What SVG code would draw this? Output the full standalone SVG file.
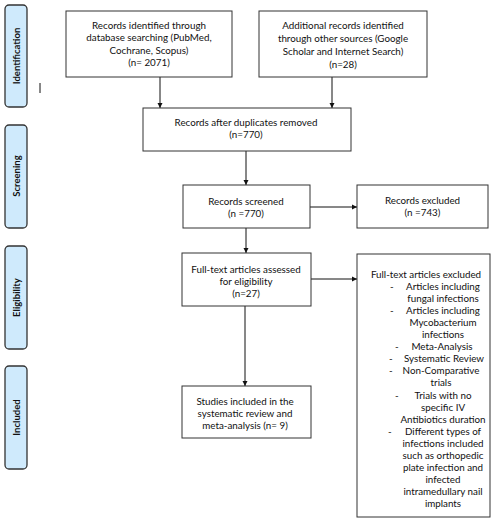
<svg xmlns="http://www.w3.org/2000/svg" width="500" height="532" viewBox="0 0 500 532">
<style>
.box{fill:#fff;stroke:#333;stroke-width:1}
.bar{fill:#cfeafc;stroke:#333;stroke-width:1.3}
text{font-family:Lato,"Liberation Sans",sans-serif;font-size:9.8px;fill:#111}
.c{text-anchor:middle}
.side{font-weight:bold;font-size:9.5px;text-anchor:middle}
.ln{stroke:#111;stroke-width:1;fill:none}
</style>
<defs>
<marker id="ah" markerWidth="6" markerHeight="6" refX="5" refY="3" orient="auto" markerUnits="userSpaceOnUse">
<path d="M0,0.5 L5,3 L0,5.5 Z" fill="#111"/>
</marker>
</defs>
<rect width="500" height="532" fill="#fff"/>

<g id="stage-identification">
<rect class="bar" x="5" y="5" width="22" height="102" rx="4"/>
<text class="side" transform="translate(19.5,56) rotate(-90)">Identification</text>
</g>
<g id="stage-screening">
<rect class="bar" x="5" y="125" width="22" height="103" rx="4"/>
<text class="side" transform="translate(19.5,176) rotate(-90)">Screening</text>
</g>
<g id="stage-eligibility">
<rect class="bar" x="5" y="246" width="22" height="103" rx="4"/>
<text class="side" transform="translate(19.5,297.5) rotate(-90)">Eligibility</text>
</g>
<g id="stage-included">
<rect class="bar" x="5" y="366" width="22" height="103" rx="4"/>
<text class="side" transform="translate(19.5,417.5) rotate(-90)">Included</text>
</g>
<line x1="40" y1="83" x2="40" y2="93" stroke="#111" stroke-width="1"/>

<g id="connectors">
<line class="ln" x1="160" y1="77" x2="160" y2="108" marker-end="url(#ah)"/>
<line class="ln" x1="332" y1="77" x2="332" y2="108" marker-end="url(#ah)"/>
<line class="ln" x1="246" y1="151" x2="246" y2="185" marker-end="url(#ah)"/>
<line class="ln" x1="310" y1="207" x2="357" y2="207" marker-end="url(#ah)"/>
<line class="ln" x1="246" y1="228" x2="246" y2="253" marker-end="url(#ah)"/>
<line class="ln" x1="311" y1="279" x2="357" y2="279" marker-end="url(#ah)"/>
<line class="ln" x1="245" y1="306" x2="245" y2="386" marker-end="url(#ah)"/>
</g>

<g id="records-database">
<rect class="box" x="66" y="11" width="166" height="66"/>
<text class="c" x="149" y="28.5">Records identified through</text>
<text class="c" x="149" y="41">database searching (PubMed,</text>
<text class="c" x="149" y="54">Cochrane, Scopus)</text>
<text class="c" x="149" y="66">(n= 2071)</text>
</g>
<g id="records-other">
<rect class="box" x="259" y="11" width="168" height="66"/>
<text class="c" x="343" y="29">Additional records identified</text>
<text class="c" x="343" y="41.5">through other sources (Google</text>
<text class="c" x="343" y="54.5">Scholar and Internet Search)</text>
<text class="c" x="343" y="67.5">(n=28)</text>
</g>
<g id="duplicates-removed">
<rect class="box" x="143" y="108" width="208" height="43"/>
<text class="c" x="246" y="125.5">Records after duplicates removed</text>
<text class="c" x="246" y="137.5">(n=770)</text>
</g>
<g id="records-screened">
<rect class="box" x="183" y="185" width="127" height="43"/>
<text class="c" x="246" y="204.5">Records screened</text>
<text class="c" x="246" y="216.5">(n =770)</text>
</g>
<g id="records-excluded">
<rect class="box" x="357" y="185" width="131" height="43"/>
<text class="c" x="422.5" y="204">Records excluded</text>
<text class="c" x="422.5" y="216">(n =743)</text>
</g>
<g id="fulltext-assessed">
<rect class="box" x="182" y="253" width="129" height="53"/>
<text class="c" x="246" y="272.5">Full-text articles assessed</text>
<text class="c" x="246" y="285">for eligibility</text>
<text class="c" x="246" y="297">(n=27)</text>
</g>
<g id="fulltext-excluded">
<rect class="box" x="357" y="254" width="133" height="263"/>
<text class="c" x="426" y="277.5">Full-text articles excluded</text>
<text x="390" y="289.6">-</text><text class="c" x="443" y="289.6">Articles including</text>
<text class="c" x="443" y="301.7">fungal infections</text>
<text x="390" y="313.8">-</text><text class="c" x="443" y="313.8">Articles including</text>
<text class="c" x="443" y="325.9">Mycobacterium</text>
<text class="c" x="443" y="338">infections</text>
<text x="395" y="350.1">-</text><text class="c" x="442" y="350.1">Meta-Analysis</text>
<text x="389" y="362.2">-</text><text class="c" x="444" y="362.2">Systematic Review</text>
<text x="389" y="374.3">-</text><text class="c" x="441" y="374.3">Non-Comparative</text>
<text class="c" x="441" y="386.4">trials</text>
<text x="395" y="398.5">-</text><text class="c" x="443" y="398.5">Trials with no</text>
<text class="c" x="443" y="410.6">specific IV</text>
<text class="c" x="443" y="422.7">Antibiotics duration</text>
<text x="388" y="434.8">-</text><text class="c" x="443" y="434.8">Different types of</text>
<text class="c" x="443" y="446.9">infections included</text>
<text class="c" x="443" y="459">such as orthopedic</text>
<text class="c" x="443" y="471.1">plate infection and</text>
<text class="c" x="443" y="483.2">infected</text>
<text class="c" x="443" y="495.3">intramedullary nail</text>
<text class="c" x="443" y="507.4">implants</text>
</g>
<g id="studies-included">
<rect class="box" x="182" y="386" width="129" height="52"/>
<text class="c" x="245" y="405">Studies included in the</text>
<text class="c" x="245" y="417">systematic review and</text>
<text class="c" x="245" y="429">meta-analysis (n= 9)</text>
</g>
</svg>
